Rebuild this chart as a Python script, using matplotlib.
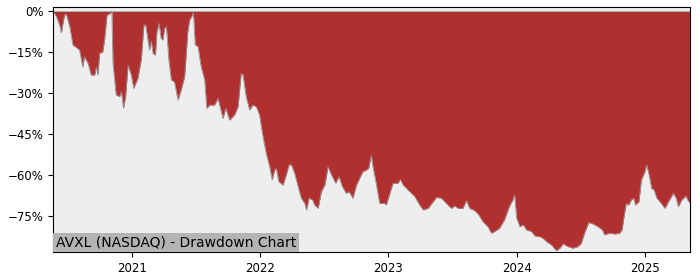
import matplotlib
matplotlib.use("Agg")
import matplotlib.pyplot as plt
import matplotlib.dates as mdates
from matplotlib.ticker import MultipleLocator, PercentFormatter
import pandas as pd

# drawdown readings (date, % below running high)
dates = [
    "2020-05-22", "2020-05-31", "2020-06-09", "2020-06-14", "2020-06-17", "2020-06-23",
    "2020-06-28", "2020-07-08", "2020-07-17", "2020-07-31", "2020-08-05", "2020-08-14",
    "2020-08-19", "2020-08-29", "2020-09-07", "2020-09-17", "2020-09-22", "2020-09-26",
    "2020-10-01", "2020-10-10", "2020-10-15", "2020-10-22", "2020-10-31", "2020-11-05",
    "2020-11-08", "2020-11-17", "2020-11-27", "2020-12-02", "2020-12-08", "2020-12-14",
    "2020-12-21", "2020-12-30", "2021-01-06", "2021-01-18", "2021-01-28", "2021-02-04",
    "2021-02-09", "2021-02-15", "2021-02-20", "2021-02-25", "2021-03-02", "2021-03-09",
    "2021-03-13", "2021-03-19", "2021-03-25", "2021-03-30", "2021-04-04", "2021-04-09",
    "2021-04-16", "2021-04-23", "2021-05-02", "2021-05-12", "2021-05-21", "2021-05-31",
    "2021-06-09", "2021-06-14", "2021-06-22", "2021-06-25", "2021-06-30", "2021-07-08",
    "2021-07-17", "2021-07-27", "2021-08-02", "2021-08-10", "2021-08-24", "2021-09-03",
    "2021-09-17", "2021-09-25", "2021-10-06", "2021-10-20", "2021-10-30", "2021-11-08",
    "2021-11-13", "2021-11-22", "2021-12-02", "2021-12-11", "2021-12-21", "2021-12-30",
    "2022-01-09", "2022-01-18", "2022-01-28", "2022-02-04", "2022-02-11", "2022-02-16",
    "2022-02-23", "2022-03-07", "2022-03-16", "2022-03-24", "2022-03-31", "2022-04-09",
    "2022-04-19", "2022-04-28", "2022-05-08", "2022-05-13", "2022-05-20", "2022-05-30",
    "2022-06-05", "2022-06-15", "2022-06-24", "2022-07-04", "2022-07-13", "2022-07-23",
    "2022-08-04", "2022-08-13", "2022-08-23", "2022-09-03", "2022-09-11", "2022-09-22",
    "2022-10-02", "2022-10-11", "2022-10-20", "2022-10-30", "2022-11-06", "2022-11-13",
    "2022-11-18", "2022-11-27", "2022-12-07", "2022-12-21", "2022-12-26", "2023-01-05",
    "2023-01-14", "2023-01-28", "2023-02-04", "2023-02-12", "2023-03-03", "2023-03-17",
    "2023-03-31", "2023-04-10", "2023-04-24", "2023-05-08", "2023-05-18", "2023-06-01",
    "2023-06-15", "2023-06-29", "2023-07-09", "2023-07-18", "2023-08-01", "2023-08-11",
    "2023-08-20", "2023-09-03", "2023-09-15", "2023-09-27", "2023-10-11", "2023-10-21",
    "2023-10-30", "2023-11-13", "2023-11-27", "2023-12-11", "2023-12-21", "2023-12-26",
    "2024-01-01", "2024-01-10", "2024-01-20", "2024-01-29", "2024-02-12", "2024-02-22",
    "2024-03-07", "2024-03-16", "2024-03-26", "2024-04-09", "2024-04-23", "2024-05-03",
    "2024-05-12", "2024-05-26", "2024-06-09", "2024-06-23", "2024-07-03", "2024-07-12",
    "2024-07-24", "2024-08-05", "2024-08-19", "2024-09-01", "2024-09-07", "2024-09-22",
    "2024-10-06", "2024-10-20", "2024-10-27", "2024-11-03", "2024-11-08", "2024-11-15",
    "2024-11-22", "2024-11-29", "2024-12-04", "2024-12-14", "2024-12-21", "2024-12-31",
    "2025-01-05", "2025-01-13", "2025-01-19", "2025-01-26", "2025-02-03", "2025-02-12",
    "2025-02-26", "2025-03-08", "2025-03-22", "2025-03-30", "2025-04-05", "2025-04-15",
    "2025-04-27", "2025-05-04", "2025-05-09",
]
drawdown = [
    0.0, -2.0, -5.0, -8.0, -5.7, -1.5,
    -1.1, -5.7, -12.4, -13.7, -14.3, -20.4,
    -16.7, -19.1, -23.4, -23.4, -20.4, -23.4,
    -15.5, -14.9, -10.6, -1.5, -0.9, 0.0,
    -19.0, -30.7, -31.3, -29.5, -35.6, -31.3,
    -19.8, -23.4, -28.3, -24.6, -17.3, -5.1,
    -5.1, -10.0, -14.3, -11.0, -15.5, -16.1,
    -7.6, -4.5, -10.0, -10.6, -6.3, -5.7,
    -17.9, -25.2, -25.9, -32.6, -28.9, -24.0,
    -7.6, -3.3, -1.5, -0.5, -12.4, -13.0,
    -20.4, -25.2, -35.6, -34.4, -34.4, -32.0,
    -39.3, -35.6, -39.9, -38.0, -35.0, -22.8,
    -23.4, -31.3, -36.2, -34.4, -35.0, -38.0,
    -46.0, -52.0, -57.0, -61.8, -58.2, -57.6,
    -62.4, -63.7, -60.0, -56.3, -56.3, -59.4,
    -64.3, -68.5, -70.4, -72.8, -68.5, -69.1,
    -71.0, -72.2, -66.1, -63.7, -57.0, -60.0,
    -63.0, -60.6, -64.3, -66.7, -66.1, -68.5,
    -63.7, -61.2, -58.8, -58.2, -57.5, -52.7,
    -57.0, -63.0, -70.4, -70.4, -71.0, -66.7,
    -63.0, -63.0, -61.6, -63.7, -66.1, -67.9,
    -71.0, -72.8, -72.2, -69.8, -68.2, -68.5,
    -70.4, -72.2, -71.3, -72.2, -72.2, -69.4,
    -72.2, -73.0, -74.6, -77.1, -78.9, -81.3,
    -80.7, -79.5, -76.5, -71.6, -69.1, -67.3,
    -75.8, -78.9, -78.3, -80.1, -80.7, -82.3,
    -82.6, -83.2, -84.4, -85.6, -87.7, -86.8,
    -85.2, -86.2, -86.8, -86.2, -85.0, -81.3,
    -77.4, -77.9, -78.9, -80.1, -81.9, -81.3,
    -81.6, -81.3, -80.1, -74.0, -70.4, -71.0,
    -69.1, -68.5, -71.0, -69.8, -61.8, -58.8,
    -56.3, -60.6, -64.9, -65.5, -68.5, -69.8,
    -72.2, -69.8, -66.7, -68.5, -71.6, -69.1,
    -67.7, -69.8, -70.0,
]
chart_label = "AVXL (NASDAQ) - Drawdown Chart"

df = pd.DataFrame({"date": pd.to_datetime(dates), "dd": drawdown})

fig = plt.figure(figsize=(7, 2.8), dpi=100)
ax = fig.add_axes([0.076, 0.099, 0.910, 0.876])
ax.set_facecolor("#eeeeee")

ax.fill_between(df["date"], df["dd"], 0, color="#b03030", linewidth=0)
ax.plot(df["date"], df["dd"], color="#909090", linewidth=0.6)

ax.set_xlim(df["date"].iloc[0], df["date"].iloc[-1])
ax.set_ylim(-88.3, 1.5)
ax.yaxis.set_major_locator(MultipleLocator(15))
ax.yaxis.set_major_formatter(PercentFormatter(decimals=0))
ax.xaxis.set_major_locator(mdates.YearLocator())
ax.xaxis.set_major_formatter(mdates.DateFormatter("%Y"))
ax.tick_params(labelsize=8.5)

ax.text(0.004, 0.012, chart_label, transform=ax.transAxes, fontsize=10,
        ha="left", va="bottom",
        bbox=dict(facecolor="#b4b4b4", edgecolor="none", pad=2))

fig.savefig("out.png", dpi=100)
